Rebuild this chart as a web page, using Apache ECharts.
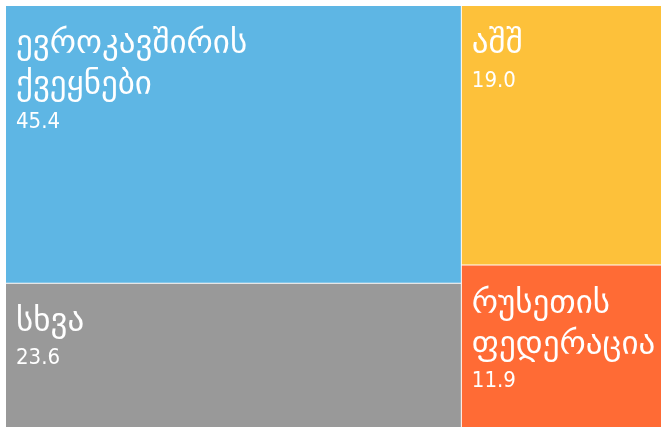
<!DOCTYPE html>
<html>
<head>
<meta charset="utf-8">
<script src="https://cdn.jsdelivr.net/npm/echarts@6/dist/echarts.min.js"></script>
<style>
html,body{margin:0;padding:0;background:#fff;}
#chart{width:661px;height:428px;}
</style>
</head>
<body>
<div id="chart"></div>
<script>
const categories = ['ევროკავშირის ქვეყნები', 'აშშ', 'სხვა', 'რუსეთის ფედერაცია'];
const values = [45.4, 19.0, 23.6, 11.9];
const colors = ['#5EB6E4', '#FDC13A', '#999999', '#FF6B35'];

const chart = echarts.init(document.getElementById('chart'));
const data = categories.map((c, i) => ({
  name: c,
  value: values[i],
  itemStyle: { color: colors[i] }
}));

chart.setOption({
  animation: false,
  series: [{
    type: 'treemap',
    left: 6, top: 6, width: 659, height: 421,
    roam: false,
    nodeClick: false,
    breadcrumb: { show: false },
    squareRatio: 0.5 * (1 + Math.sqrt(5)),
    itemStyle: { borderWidth: 0, gapWidth: 1, borderColor: '#fff' },
    levels: [{ itemStyle: { borderWidth: 0, gapWidth: 1, borderColor: '#fff' } }],
    label: {
      show: true,
      position: 'insideTopLeft',
      padding: [18, 0, 0, 10],
      overflow: 'none',
      formatter: function (p) {
        const lines = p.name.split(' ').map(s => '{name|' + s + '}');
        return lines.join('\n') + '\n{val|' + p.value.toFixed(1) + '}';
      },
      rich: {
        name: { fontFamily: 'DejaVu Sans', fontSize: 33, lineHeight: 41, color: '#fff' },
        val: { fontFamily: 'DejaVu Sans Condensed', fontSize: 22, lineHeight: 32, color: '#fff' }
      }
    },
    data: data
  }]
});
</script>
</body>
</html>
